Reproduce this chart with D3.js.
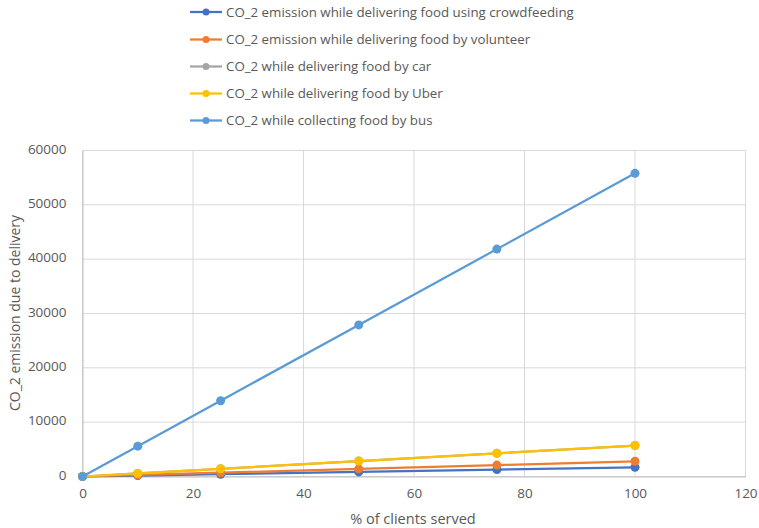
<!DOCTYPE html>
<html>
<head>
<meta charset="utf-8">
<script src="https://cdn.jsdelivr.net/npm/d3@7"></script>
<style>
  html, body { margin: 0; padding: 0; background: #fff; }
  svg { display: block; font-family: "Open Sans", "Liberation Sans", sans-serif; }
</style>
</head>
<body>
<svg id="chart" width="759" height="528"></svg>
<script>
// % of clients served
const clientsServed = [0, 10, 25, 50, 75, 100];

// CO_2 emission per delivery mode
const seriesNames = [
  "CO_2 emission while delivering food using crowdfeeding",
  "CO_2 emission while delivering food by volunteer",
  "CO_2 while delivering food by car",
  "CO_2 while delivering food by Uber",
  "CO_2 while collecting food by bus"
];
const crowdfeeding = [0, 170, 420, 850, 1270, 1700];
const volunteer    = [0, 280, 700, 1400, 2100, 2800];
const car          = [0, 570, 1420, 2850, 4270, 5700];
const uber         = [0, 570, 1420, 2850, 4270, 5700];
const bus          = [0, 5580, 13950, 27900, 41850, 55800];
const seriesValues = [crowdfeeding, volunteer, car, uber, bus];
const seriesColors = ["#4472C4", "#ED7D31", "#A5A5A5", "#FFC000", "#5B9BD5"];

const xTicks = [0, 20, 40, 60, 80, 100, 120];
const yTicks = [0, 10000, 20000, 30000, 40000, 50000, 60000];

const svg = d3.select("#chart");
const textColor = "#595959";
const gridColor = "#d9d9d9";

const x = d3.scaleLinear().domain([0, 120]).range([82.5, 745.5]);
const y = d3.scaleLinear().domain([0, 60000]).range([476.5, 150.5]);

// gridlines
const grid = svg.append("g");
grid.selectAll("line.h").data(yTicks).join("line")
  .attr("x1", x(0)).attr("x2", x(120))
  .attr("y1", d => y(d)).attr("y2", d => y(d))
  .attr("stroke", gridColor).attr("stroke-width", 1);
grid.selectAll("line.v").data(xTicks).join("line")
  .attr("y1", y(0)).attr("y2", y(60000))
  .attr("x1", d => x(d)).attr("x2", d => x(d))
  .attr("stroke", gridColor).attr("stroke-width", 1);

// axes
const xAxis = svg.append("g").attr("transform", `translate(0,${y(0)})`)
  .call(d3.axisBottom(x).tickValues(xTicks).tickSize(0).tickPadding(12));
const yAxis = svg.append("g").attr("transform", `translate(${x(0)},0)`)
  .call(d3.axisLeft(y).tickValues(yTicks).tickSize(0).tickPadding(16).tickFormat(d3.format("d")));
[xAxis, yAxis].forEach(g => {
  g.select(".domain").attr("stroke", "#bfbfbf");
  g.selectAll("text").attr("fill", textColor).style("font-size", "13.5px")
    .style("font-family", "'Open Sans', sans-serif");
});
yAxis.selectAll("text").attr("dy", "0.2em");

// axis titles
svg.append("text").attr("x", 413).attr("y", 524).attr("text-anchor", "middle")
  .attr("fill", textColor).style("font-size", "14.5px").text("% of clients served");
svg.append("text").attr("transform", `translate(20,${313}) rotate(-90)`)
  .attr("text-anchor", "middle").attr("fill", textColor).style("font-size", "14px")
  .text("CO_2 emission due to delivery");

// series
const line = d3.line().x((d, i) => x(clientsServed[i])).y(d => y(d));
seriesValues.forEach((vals, s) => {
  const g = svg.append("g");
  g.append("path").datum(vals).attr("d", line)
    .attr("fill", "none").attr("stroke", seriesColors[s]).attr("stroke-width", 2.25);
  g.selectAll("circle").data(vals).join("circle")
    .attr("cx", (d, i) => x(clientsServed[i])).attr("cy", d => y(d)).attr("r", 4.5)
    .attr("fill", seriesColors[s]);
});

// legend
const legendY = [12, 39.5, 66.5, 93.5, 120.5];
const legend = svg.append("g");
seriesNames.forEach((name, i) => {
  const row = legend.append("g").attr("transform", `translate(190,${legendY[i]})`);
  row.append("line").attr("x1", 0).attr("x2", 32).attr("y1", 0).attr("y2", 0)
    .attr("stroke", seriesColors[i]).attr("stroke-width", 2.25);
  row.append("circle").attr("cx", 16).attr("cy", 0).attr("r", 3.5).attr("fill", seriesColors[i]);
  row.append("text").attr("x", 36).attr("y", 4.7).attr("fill", textColor)
    .style("font-size", "13.3px").text(name);
});
</script>
</body>
</html>
